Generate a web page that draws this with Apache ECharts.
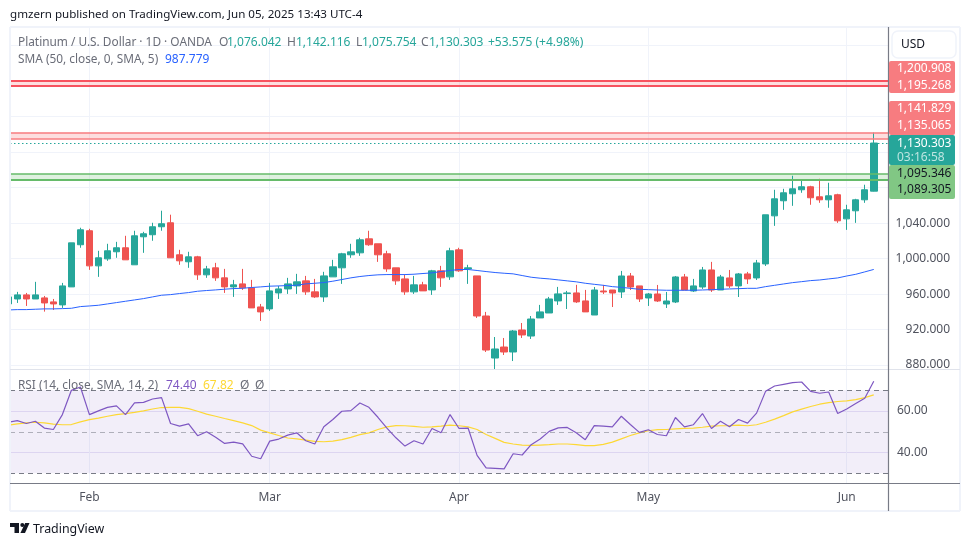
<!DOCTYPE html>
<html>
<head>
<meta charset="utf-8">
<title>Platinum / U.S. Dollar</title>
<script src="https://cdn.jsdelivr.net/npm/echarts@6/dist/echarts.min.js"></script>
<style>
  html, body { margin: 0; padding: 0; background: #fff; }
  #chart { width: 970px; height: 546px; }
</style>
</head>
<body>
<div id="chart"></div>
<script>
// daily candles, left to right
var opens = [
  948.9, 954.5, 959.1, 954.5, 955.7, 951.2, 947.8, 968.1, 1015.6, 1031.4,
  991.8, 999.7, 1007.7, 1012.2, 993, 1024.6, 1026.9, 1035.9, 1040.4, 1004.3,
  996.4, 1002, 981.7, 989.6, 978.3, 968.1, 971.5, 967, 945.5, 943.3,
  961.3, 965.8, 969.2, 974.9, 962.5, 956.8, 979.4, 989.6, 1004.3, 1006.5,
  1022.3, 1016.7, 1005.4, 989.6, 977.1, 962.5, 970.4, 964.7, 986.2, 979.4,
  1009.9, 988.4, 980.5, 935.3, 887.9, 900.3, 894.7, 919.5, 912.7, 933.1,
  938.7, 952.3, 960.6, 961.3, 952.3, 936.4, 963.5, 964.6, 962.4, 980.4,
  969.2, 955.6, 960.1, 948.8, 951.1, 979.3, 963.5, 968, 987.2, 964.6,
  978.2, 969.2, 982.7, 978.2, 994, 1048.2, 1065.2, 1073.1, 1077.6, 1081,
  1069.7, 1066.3, 1072, 1044.8, 1053.9, 1066.3, 1076.042
];
var closes = [
  956.8, 959.1, 954.5, 959.1, 950, 948.9, 969.2, 1017.8, 1032.5, 991.8,
  1000.9, 1008.8, 1012.2, 998.6, 1025.7, 1028, 1035.9, 1039.3, 1000.9, 997.5,
  1002, 981.7, 988.4, 978.3, 968.1, 970.4, 967, 944.4, 939.9, 963.6,
  965.8, 971.5, 973.8, 962.5, 956.8, 980.5, 990.7, 1005.4, 1007.6, 1021.2,
  1015.6, 1004.3, 988.4, 974.9, 962.5, 970.4, 963.6, 986.2, 978.3, 1008.8,
  986.2, 989.6, 935.3, 896.9, 898.1, 894.7, 918.4, 913.9, 931.9, 939.9,
  954.5, 960.2, 961.3, 951.2, 939.9, 964.6, 962.4, 961.2, 980.4, 968,
  954.5, 960.1, 952.2, 952.2, 979.3, 964.6, 969.2, 987.2, 964.6, 979.3,
  969.2, 982.7, 977.1, 995.1, 1049.4, 1067.4, 1074.2, 1078.7, 1081, 1068.6,
  1066.3, 1070.8, 1042.6, 1055, 1066.3, 1077.6, 1130.303
];
var highs = [
  958, 962.5, 961.3, 973.8, 957.9, 954.5, 972.6, 1017.8, 1034.8, 1033.6,
  1008.8, 1016.7, 1018.9, 1025.7, 1031.4, 1030.2, 1040.4, 1054, 1049.5, 1009.9,
  1007.7, 1003.1, 991.8, 995.2, 988.4, 976, 988.4, 976, 948.9, 972.6,
  969.2, 978.3, 982.8, 980.5, 977.1, 985.1, 998.6, 1006.5, 1016.7, 1023.5,
  1031.4, 1016.7, 1008.8, 989.6, 981.7, 980.5, 973.8, 987.3, 991.8, 1012.2,
  1012.2, 993, 980.5, 939.9, 911.6, 910.5, 919.5, 927.4, 935.3, 947.8,
  956.8, 968.1, 963.6, 970.4, 964.7, 968, 970.3, 964.6, 986.1, 983.8,
  969.2, 961.2, 970.3, 962.4, 980.4, 982.7, 977.1, 990.6, 996.3, 981.6,
  987.2, 983.8, 985, 998.5, 1049.4, 1077.6, 1078.7, 1093.4, 1087.8, 1082.1,
  1090, 1085.5, 1073.1, 1060.7, 1067.4, 1083.3, 1142.116
];
var lows = [
  948, 950, 946.6, 954.5, 940.2, 942.1, 944.4, 968.1, 1012.2, 987.3,
  979.4, 997.5, 1000.9, 998.6, 993, 1006.5, 1020.1, 1031.4, 1000.9, 993,
  989.6, 976, 978.3, 974.9, 961.3, 956.8, 964.7, 944.4, 929.7, 941,
  954.5, 960.2, 960.2, 959.1, 955.7, 951.2, 979.4, 971.5, 1000.9, 1003.1,
  1014.4, 996.3, 985.1, 970.4, 959.1, 960.2, 963.6, 959.1, 968.1, 976,
  985.1, 971.5, 933.1, 894.7, 875.5, 891.3, 884.5, 910.5, 909.4, 933.1,
  938.7, 947.8, 943.2, 950, 939.9, 936.4, 960.1, 945.4, 955.6, 964.6,
  951.1, 946.6, 951.1, 944.3, 949.9, 964.6, 962.4, 965.8, 962.4, 964.6,
  966.9, 956.7, 971.4, 975.9, 991.7, 1036.9, 1055, 1059.5, 1074.2, 1060.7,
  1062.9, 1057.3, 1040.3, 1032.4, 1040.3, 1062.9, 1075.754
];
var sma50 = [
  942.1, 942.5, 942.5, 942.9, 943.3, 943.3, 943.6, 944, 945.9, 946.6,
  947.4, 948.9, 950.4, 951.9, 953.4, 954.9, 956.8, 958.7, 959.4, 960.6,
  961.7, 963.2, 964, 964.7, 965.5, 966.2, 966.6, 967.4, 968.1, 968.9,
  969.2, 969.6, 970, 971.5, 972.2, 973, 974.5, 976.4, 978.3, 979.8,
  980.9, 981.7, 982, 982, 982, 982.4, 983.2, 983.9, 985.4, 986.6,
  987.7, 987.7, 986.6, 985.4, 984.3, 983.5, 982.8, 980.9, 979, 977.9,
  977.1, 976, 974.9, 973.8, 972.2, 971, 969.9, 968.4, 967.6, 966.5,
  965.4, 965, 964.6, 964.3, 964.3, 964.3, 964.3, 964.6, 965, 965.4,
  965.8, 966.1, 966.5, 966.5, 968.4, 969.9, 971.4, 972.9, 974, 975.2,
  975.9, 977.1, 978.2, 980.4, 982.3, 985, 987.779
];
var rsi = [
  54.6, 55.4, 54, 55.1, 51.8, 51.1, 58.3, 70, 71.6, 58.3,
  60.1, 61.8, 62.5, 58.3, 63.9, 64.2, 65.8, 66.5, 54, 52.7,
  53.8, 48.1, 50, 47.4, 44.4, 45, 44.2, 38.2, 37, 45.5,
  46.5, 48.4, 49.5, 45.7, 44.1, 52.4, 55.9, 59.9, 60.2, 63.9,
  61.8, 57, 51.8, 47.1, 43.1, 45.7, 44.1, 51.6, 49.5, 58.3,
  51.6, 51.8, 38.6, 32.6, 32.4, 32.1, 39.4, 38.8, 43.8, 46.5,
  50.2, 51.9, 52.1, 49.5, 46.2, 53, 52.7, 52.4, 57.5, 53.5,
  49.7, 51, 48.7, 48.1, 56.9, 52.4, 53.4, 58.8, 51.6, 55.1,
  52.4, 55.9, 54.2, 59, 69.5, 72.1, 72.9, 73.7, 74, 69.5,
  68.6, 69.2, 58.8, 61, 63.6, 66.2, 74.4
];
var rsiMa = [
  53.2, 53.8, 54.3, 54.6, 54.3, 53.7, 53.4, 53.5, 54.8, 55.9,
  56.6, 57.5, 58.3, 58.8, 59.4, 60.1, 61, 61.7, 61.8, 61.8,
  61.2, 59.9, 58.5, 57.5, 56.4, 55.4, 54.3, 53, 50.8, 49.5,
  48.2, 47, 46.6, 46, 45.4, 45.2, 45.5, 46.2, 47.3, 48.6,
  49.5, 51.1, 52.4, 53, 52.9, 52.6, 52.2, 52.4, 52.7, 53.2,
  52.9, 52.4, 51.1, 48.7, 46.8, 44.9, 44.1, 43.6, 43.4, 43.6,
  43.8, 44.1, 44.1, 43.8, 43.3, 43.3, 43.9, 45, 46.6, 48.2,
  49.5, 50.5, 51, 51.1, 51.4, 51.6, 51.8, 52.2, 52.7, 52.9,
  53, 53.2, 52.9, 53.4, 54.6, 56.1, 57.8, 59.6, 60.9, 62.2,
  63.3, 64.1, 64.6, 64.9, 65.5, 66.5, 67.82
];

var monthNames = ['Feb', 'Mar', 'Apr', 'May', 'Jun'];
var monthStarts = [9, 29, 50, 71, 93];
var priceTicks = [880, 920, 960, 1000, 1040];
var priceGrid = [880, 920, 960, 1000, 1040, 1080, 1120, 1160, 1200, 1240];
var rsiTicks = [40, 60];
var redZone = [1195.268, 1200.908];
var pinkZone = [1135.065, 1141.829];
var greenZone = [1089.305, 1095.346];
var lastPrice = 1130.303;

var UP = '#26a69a', DOWN = '#ef5350';
var FONT = '"Noto Sans", sans-serif';

var candles = opens.map(function (o, i) {
  return [i, o, closes[i], lows[i], highs[i]];
});
function pairs(arr) {
  return arr.map(function (v, i) { return [i, v]; });
}
function fmtPrice(v) {
  return Number(v).toLocaleString('en-US', { minimumFractionDigits: 3, maximumFractionDigits: 3 });
}

function zoneArea(z, fill) {
  return [{ yAxis: z[0], itemStyle: { color: fill } }, { yAxis: z[1] }];
}
function zoneLine(v, color, w) {
  return { yAxis: v, lineStyle: { color: color, width: w, type: 'solid' } };
}

function txt(x, y, s, color, size, extra) {
  return {
    type: 'text', x: x, y: y, silent: true, z: 50,
    style: Object.assign({
      text: s, fill: color, fontFamily: FONT, fontSize: size || 12,
      textVerticalAlign: 'middle'
    }, extra || {})
  };
}
function box(x, y, w, h, fill) {
  return { type: 'rect', silent: true, z: 40, shape: { x: x, y: y, width: w, height: h, r: 2 }, style: { fill: fill } };
}
function hline(x1, x2, y, color, w) {
  return { type: 'line', silent: true, z: 30, shape: { x1: x1, y1: y, x2: x2, y2: y }, style: { stroke: color, lineWidth: w || 1 } };
}
function vline(x, y1, y2, color, w) {
  return { type: 'line', silent: true, z: 30, shape: { x1: x, y1: y1, x2: x, y2: y2 }, style: { stroke: color, lineWidth: w || 1 } };
}

var LEG = '#6a6d78', AXIS = '#787b86', AXTXT = '#50535e', FRAME = '#f0f3fa';

var frame = [
  // keeps the half candle at the left edge inside the panel
  { type: 'rect', silent: true, z: 20, shape: { x: 0, y: 27, width: 9.5, height: 484 }, style: { fill: '#fff' } },
  hline(10, 960, 27, FRAME, 2), hline(10, 960, 511, FRAME, 2),
  vline(10, 27, 511, FRAME, 2), vline(960, 27, 511, FRAME, 2),
  hline(10, 960, 369.5, '#e0e3eb', 1),
  hline(10, 960, 483.5, AXIS, 1),
  vline(888.5, 27, 511, AXIS, 1.2)
];
var head = [
  txt(10, 15, 'gmzern published on TradingView.com, Jun 05, 2025 13:43 UTC-4', '#131722', 11.6),
  txt(18, 43, 'Platinum / U.S. Dollar · 1D · OANDA', LEG, 11.85),
  txt(219, 43, 'O', LEG, 12), txt(227, 43, '1,076.042', UP, 12),
  txt(287, 43, 'H', LEG, 12), txt(296, 43, '1,142.116', UP, 12),
  txt(356, 43, 'L', LEG, 12), txt(362, 43, '1,075.754', UP, 12),
  txt(421, 43, 'C', LEG, 12), txt(429, 43, '1,130.303', UP, 12),
  txt(488, 43, '+53.575 (+4.98%)', UP, 12),
  txt(18, 60, 'SMA (50, close, 0, SMA, 5)', LEG, 11.85),
  txt(165, 60, '987.779', '#2962ff', 12),
  txt(18, 386, 'RSI (14, close, SMA, 14, 2)', LEG, 11.85),
  txt(166, 386, '74.40', '#7e57c2', 12),
  txt(203, 386, '67.82', '#fdd835', 12),
  txt(240, 386, 'Ø', LEG, 12), txt(255, 386, 'Ø', LEG, 12)
];
var priceTags = [
  { type: 'rect', silent: true, z: 40, shape: { x: 892, y: 31, width: 64, height: 27, r: 6 }, style: { fill: '#fff', stroke: FRAME, lineWidth: 1.5 } },
  txt(901, 45, 'USD', '#131722', 12),
  box(889, 61, 66, 32, '#f77c80'),
  box(889, 101, 66, 34, '#f77c80'),
  box(889, 135, 66, 30, UP),
  box(889, 165, 66, 34, '#81c784'),
  txt(897, 69, fmtPrice(redZone[1]), '#fff', 12),
  txt(897, 86, fmtPrice(redZone[0]), '#fff', 12),
  txt(897, 109, fmtPrice(pinkZone[1]), '#fff', 12),
  txt(897, 126, fmtPrice(pinkZone[0]), '#fff', 12),
  txt(897, 144, fmtPrice(lastPrice), '#fff', 12),
  txt(897, 158, '03:16:58', '#bde5e1', 12),
  txt(897, 174, fmtPrice(greenZone[1]), '#131722', 12),
  txt(897, 190, fmtPrice(greenZone[0]), '#131722', 12)
];
var logo = [
  { type: 'polygon', silent: true, shape: { points: [[10, 523], [19, 523], [19, 533], [14.5, 533], [14.5, 527], [10, 527]] }, style: { fill: '#131722' } },
  { type: 'circle', silent: true, shape: { cx: 22.3, cy: 525, r: 2 }, style: { fill: '#131722' } },
  { type: 'polygon', silent: true, shape: { points: [[25.2, 523], [29.5, 523], [25, 533], [20.4, 533]] }, style: { fill: '#131722' } },
  txt(33, 529, 'TradingView', '#131722', 12.4)
];

var chart = echarts.init(document.getElementById('chart'), null, { renderer: 'canvas' });

var xMin = 0.19, xMax = 97.58;
function xAxisOf(gridIndex, showLabels) {
  return {
    type: 'value', gridIndex: gridIndex, min: xMin, max: xMax,
    axisLine: { show: false },
    axisTick: { show: false, customValues: monthStarts },
    splitLine: { show: true, lineStyle: { color: '#f0f3fa', width: 1 } },
    axisLabel: {
      show: showLabels, customValues: monthStarts, margin: 9,
      color: AXTXT, fontFamily: FONT, fontSize: 12,
      formatter: function (v) { return monthNames[monthStarts.indexOf(v)]; }
    }
  };
}

chart.setOption({
  animation: false,
  backgroundColor: '#fff',
  grid: [
    { left: 10, right: 82, top: 28, height: 342 },
    { left: 10, right: 82, top: 370, height: 113 }
  ],
  xAxis: [xAxisOf(0, false), xAxisOf(1, true)],
  yAxis: [
    {
      type: 'value', gridIndex: 0, position: 'right', min: 874.4, max: 1260,
      axisLine: { show: false },
      axisTick: { show: false, customValues: priceGrid },
      splitLine: { show: true, lineStyle: { color: '#f0f3fa', width: 1 } },
      axisLabel: {
        customValues: priceTicks, margin: 62, align: 'right',
        color: AXTXT, fontFamily: FONT, fontSize: 12,
        formatter: fmtPrice
      }
    },
    {
      type: 'value', gridIndex: 1, position: 'right', min: 25.3, max: 79.8,
      axisLine: { show: false },
      axisTick: { show: false, customValues: rsiTicks },
      splitLine: { show: true, lineStyle: { color: '#e8e4f6', width: 1 } },
      axisLabel: {
        customValues: rsiTicks, margin: 9, align: 'left',
        color: AXTXT, fontFamily: FONT, fontSize: 12,
        formatter: function (v) { return v.toFixed(2); }
      }
    }
  ],
  series: [
    {
      name: 'Platinum', type: 'candlestick', xAxisIndex: 0, yAxisIndex: 0,
      data: candles, encode: { x: 0, y: [1, 2, 3, 4] },
      barWidth: 7, clip: true,
      itemStyle: { color: UP, color0: DOWN, borderColor: UP, borderColor0: DOWN, borderWidth: 1 },
      markArea: {
        silent: true,
        data: [
          zoneArea(redZone, 'rgba(247,124,128,0.25)'),
          zoneArea(pinkZone, 'rgba(247,124,128,0.25)'),
          zoneArea(greenZone, 'rgba(129,199,132,0.25)')
        ]
      },
      markLine: {
        silent: true, symbol: 'none', label: { show: false },
        data: [
          zoneLine(redZone[1], '#f7525f', 2),
          zoneLine(redZone[0], '#f7525f', 2),
          zoneLine(pinkZone[1], '#f77c80', 1.5),
          zoneLine(pinkZone[0], '#f77c80', 1.5),
          zoneLine(greenZone[1], '#66bb6a', 1.5),
          zoneLine(greenZone[0], '#66bb6a', 2),
          { yAxis: lastPrice, lineStyle: { color: UP, width: 1, type: [1.5, 2.5] } }
        ]
      }
    },
    {
      name: 'SMA', type: 'line', xAxisIndex: 0, yAxisIndex: 0,
      data: pairs(sma50), showSymbol: false, z: 5,
      lineStyle: { color: '#2962ff', width: 1 }
    },
    {
      name: 'RSI', type: 'line', xAxisIndex: 1, yAxisIndex: 1,
      data: pairs(rsi), showSymbol: false, z: 5,
      lineStyle: { color: '#7e57c2', width: 1.2 },
      markArea: {
        silent: true,
        data: [[{ yAxis: 30, itemStyle: { color: 'rgba(126,87,194,0.1)' } }, { yAxis: 70 }]]
      },
      markLine: {
        silent: true, symbol: 'none', label: { show: false },
        data: [
          { yAxis: 70, lineStyle: { color: AXIS, width: 1, type: [5, 4] } },
          { yAxis: 50, lineStyle: { color: 'rgba(120,123,134,0.55)', width: 1, type: [5, 4] } },
          { yAxis: 30, lineStyle: { color: AXIS, width: 1, type: [5, 4] } }
        ]
      }
    },
    {
      name: 'RSI MA', type: 'line', xAxisIndex: 1, yAxisIndex: 1,
      data: pairs(rsiMa), showSymbol: false, z: 4,
      lineStyle: { color: '#fdd835', width: 1.2 }
    }
  ],
  graphic: frame.concat(head, priceTags, logo)
});
</script>
</body>
</html>
